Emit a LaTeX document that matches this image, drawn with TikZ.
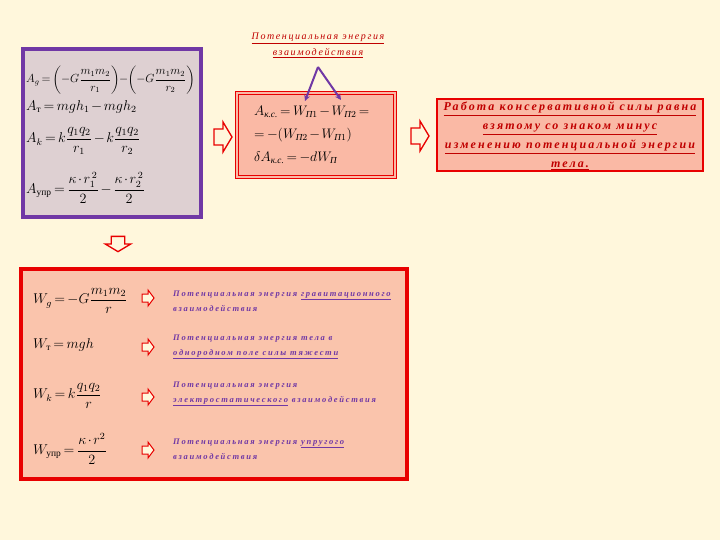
\documentclass[tikz,border=0pt]{standalone}
\usepackage{amsmath}
\usepackage{graphicx}
\usepackage{fontspec}
\setmainfont{Liberation Serif}
\newfontfamily\labelfont[LetterSpace=16]{Liberation Serif}
\newfontfamily\rulefont[LetterSpace=18]{Liberation Serif}
\newfontfamily\descfont[LetterSpace=20]{Liberation Serif}
\usetikzlibrary{arrows.meta}
\definecolor{bgcolor}{RGB}{255,247,220}
\definecolor{graycolor}{RGB}{222,208,210}
\definecolor{salmoncolor}{RGB}{250,185,165}
\definecolor{peachcolor}{RGB}{250,196,172}
\definecolor{purplecolor}{RGB}{112,56,165}
\definecolor{redcolor}{RGB}{232,0,0}
\definecolor{darkredcolor}{RGB}{192,0,0}
\newcommand{\mathscaled}[2]{\scalebox{#1}{$\medmuskip=2mu\relax\thickmuskip=3mu\relax #2$}}

\tikzset{
  bigarrow/.pic={\draw[redcolor, fill=bgcolor, line width=1.3pt, line join=miter]
    (-9,-8) -- (0,-8) -- (0,-15) -- (9,0) -- (0,15) -- (0,8) -- (-9,8) -- cycle;},
  smallarrow/.pic={\draw[redcolor, fill=bgcolor, line width=1pt, line join=miter]
    (-6,-4) -- (0,-4) -- (0,-8) -- (6,0) -- (0,8) -- (0,4) -- (-6,4) -- cycle;},
  formula/.style={anchor=west, inner sep=0pt, font=\fontsize{12}{14}\selectfont},
  desc/.style={anchor=west, align=left, inner sep=0pt, text=purplecolor,
    font=\descfont\bfseries\itshape\fontsize{8.5}{15}\selectfont},
}

\begin{document}
\begin{tikzpicture}[x=1pt, y=-1pt] % pixel grid, y downwards

    % Background
    \fill[bgcolor] (0,0) rectangle (720,540);
    \useasboundingbox (0,0) rectangle (720,540);

    % Work formulas (purple box)
    \node[draw=purplecolor, line width=3.5pt, fill=graycolor, minimum width=178pt, minimum height=168pt] (workbox) at (112,133) {};
    \node[formula] (ag) at (26,80) {\mathscaled{0.98}{A_g=\left(-G\dfrac{m_1m_2}{r_1}\right)\!-\!\left(-G\dfrac{m_1m_2}{r_2}\right)}};
    \node[formula] (at) at (26,107) {\mathscaled{1.18}{A_{\text{т}}=mgh_1-mgh_2}};
    \node[formula] (ak) at (26,141) {\mathscaled{1.18}{A_k=k\dfrac{q_1q_2}{r_1}-k\dfrac{q_1q_2}{r_2}}};
    \node[formula] (aupr) at (26,188) {\mathscaled{1.18}{A_{\text{упр}}=\dfrac{\kappa\cdot r_1^{\,2}}{2}-\dfrac{\kappa\cdot r_2^{\,2}}{2}}};

    % Middle box
    \node[draw=redcolor, line width=1.2pt, double=salmoncolor, double distance=1.5pt, fill=salmoncolor, minimum width=158pt, minimum height=84pt] (potbox) at (316,135) {};
    \node[formula] (line1) at (254,112) {\mathscaled{1.15}{A_{\textit{к.с.}}=W_{\textit{П}1}-W_{\textit{П}2}=}};
    \node[formula] (line2) at (254,135) {\mathscaled{1.15}{=-(W_{\textit{П}2}-W_{\textit{П}1})}};
    \node[formula] (line3) at (254,158) {\mathscaled{1.15}{\delta A_{\textit{к.с.}}=-dW_{\textit{П}}}};

    % Label above with two arrows
    \node[align=center, text=darkredcolor, inner sep=0pt, font=\labelfont\itshape\fontsize{10}{16}\selectfont] (toplabel) at (318,45)
      {\underline{Потенциальная энергия}\\\underline{взаимодействия}};
    \coordinate (apex) at (318,67);
    \coordinate (tipleft) at (305,101);
    \coordinate (tipright) at (341,100);
    \draw[purplecolor, line width=2pt, -{Stealth[length=6pt,width=6pt]}] (apex) -- (tipleft);
    \draw[purplecolor, line width=2pt, -{Stealth[length=6pt,width=6pt]}] (apex) -- (tipright);

    % Conclusion box
    \node[draw=redcolor, line width=2.5pt, fill=salmoncolor, minimum width=266pt, minimum height=72pt] (rulebox) at (570,135) {};
    \node[align=center, text=darkredcolor, inner sep=0pt, font=\rulefont\bfseries\itshape\fontsize{12}{19}\selectfont] (ruletext) at (570,136)
      {\underline{Работа консервативной силы равна}\\\underline{взятому со знаком минус}\\\underline{изменению потенциальной энергии}\\\underline{тела.}};

    % Block arrows between boxes
    \pic at (223,137) {bigarrow};
    \pic at (420,136) {bigarrow};
    \pic[rotate=-90, yscale=0.85, xscale=0.85] at (118,244) {bigarrow};

    % Energy formulas (bottom box)
    \node[draw=redcolor, line width=3.5pt, fill=peachcolor, minimum width=386pt, minimum height=210pt] (energybox) at (214,374) {};
    \node[formula] (wg) at (33,301) {\mathscaled{1.18}{W_g=-G\dfrac{m_1m_2}{r}}};
    \node[formula] (wt) at (33,345) {\mathscaled{1.18}{W_{\text{т}}=mgh}};
    \node[formula] (wk) at (33,396) {\mathscaled{1.18}{W_k=k\dfrac{q_1q_2}{r}}};
    \node[formula] (wupr) at (33,449) {\mathscaled{1.18}{W_{\text{упр}}=\dfrac{\kappa\cdot r^2}{2}}};

    % Small arrows to the descriptions
    \foreach \ya in {298,347,397,450}
      \pic at (148,\ya) {smallarrow};

    \node[desc] (d1) at (173,301) {Потенциальная энергия \underline{гравитационного}\\взаимодействия};
    \node[desc] (d2) at (173,347) {Потенциальная энергия тела в\\\underline{однородном поле силы тяжести}};
    \node[desc] (d3) at (173,394) {Потенциальная энергия\\\underline{электростатического} взаимодействия};
    \node[desc] (d4) at (173,449) {Потенциальная энергия \underline{упругого}\\взаимодействия};

\end{tikzpicture}
\end{document}
